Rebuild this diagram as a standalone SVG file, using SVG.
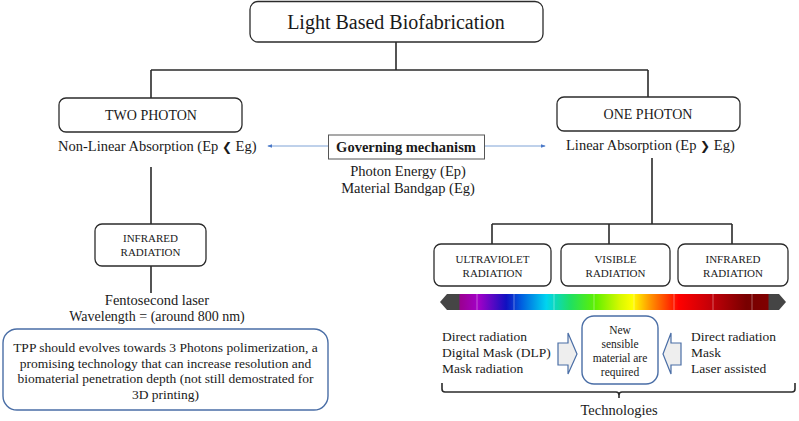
<svg xmlns="http://www.w3.org/2000/svg" width="799" height="421" viewBox="0 0 799 421">
<defs>
<style>
text{font-family:"Liberation Serif","Times New Roman",serif;fill:#1a1a1a}
.box{fill:#fff;stroke:#2b2b2b;stroke-width:1.3}
.bbox{fill:#fff;stroke:#4a6ea6;stroke-width:1.4}
.ln{fill:none;stroke:#2b2b2b;stroke-width:1.6}
.ar{fill:none;stroke:#7fa3d6;stroke-width:1}
.barrow{fill:#eeeeee;stroke:#4a6ea6;stroke-width:1.2}
.c{text-anchor:middle}
.sym{font-family:"DejaVu Sans",sans-serif}
</style>
<marker id="ah" viewBox="0 0 6 6" refX="5" refY="3" markerWidth="5" markerHeight="5" orient="auto-start-reverse">
<path d="M0,0.8 L6,3 L0,5.2 Z" fill="#4a78c8"/>
</marker>
<linearGradient id="spec" gradientUnits="userSpaceOnUse" x1="460" y1="0" x2="768" y2="0">
<stop offset="0" stop-color="#9a0090"/>
<stop offset="0.06" stop-color="#a300c8"/>
<stop offset="0.15" stop-color="#1010c0"/>
<stop offset="0.2" stop-color="#0060e0"/>
<stop offset="0.28" stop-color="#00d4f0"/>
<stop offset="0.36" stop-color="#20e060"/>
<stop offset="0.44" stop-color="#60f000"/>
<stop offset="0.52" stop-color="#d8f800"/>
<stop offset="0.56" stop-color="#ffff00"/>
<stop offset="0.62" stop-color="#ff9000"/>
<stop offset="0.71" stop-color="#ff0000"/>
<stop offset="0.82" stop-color="#c00008"/>
<stop offset="0.93" stop-color="#780000"/>
<stop offset="1" stop-color="#800000"/>
</linearGradient>
</defs>

<g id="connectors">
<path class="ln" d="M396,42 V70 M151,70 H648 M151,70 V98 M648,70 V97"/>
<path class="ln" d="M151,167 V224 M151,266 V293"/>
<path class="ln" d="M652,158 V224 M492,224 H732 M492,224 V244 M609,224 V244 M732,224 V244"/>
<line class="ar" x1="328" y1="146" x2="268" y2="146" marker-end="url(#ah)"/>
<line class="ar" x1="485" y1="146" x2="545" y2="146" marker-end="url(#ah)"/>
<path class="ln" d="M442,383 V389 Q442,392 445,392 H616 Q619,392 619,395 V398 M619,395 Q619,392 622,392 H792 Q795,392 795,389 V383" stroke-width="1.4"/>
</g>

<g id="title">
<rect class="box" x="250" y="1.5" width="293" height="40.5" rx="8"/>
<text class="c" x="396" y="29" font-size="20">Light Based Biofabrication</text>
</g>

<g id="two-photon">
<rect class="box" x="59" y="98" width="183" height="34" rx="7"/>
<text class="c" x="151" y="120" font-size="14">TWO PHOTON</text>
<text x="58" y="151" font-size="14.5">Non-Linear Absorption (Ep <tspan class="sym" font-size="12">❮</tspan> Eg)</text>
</g>

<g id="one-photon">
<rect class="box" x="557" y="97" width="183" height="34" rx="7"/>
<text class="c" x="648" y="119" font-size="14">ONE PHOTON</text>
<text x="566" y="150" font-size="14.5">Linear Absorption (Ep <tspan class="sym" font-size="12">❯</tspan> Eg)</text>
</g>

<g id="governing">
<rect x="328.5" y="135" width="156" height="24" fill="#fff" stroke="#555" stroke-width="1"/>
<text class="c" x="406" y="152" font-size="14.5" font-weight="bold">Governing mechanism</text>
<text class="c" x="408" y="176" font-size="14.5">Photon Energy (Ep)</text>
<text class="c" x="408" y="193" font-size="14.5">Material Bandgap (Eg)</text>
</g>

<g id="ir-left">
<rect class="box" x="95" y="224" width="111" height="42" rx="7"/>
<text class="c" x="150.5" y="242" font-size="11">INFRARED</text>
<text class="c" x="150.5" y="256" font-size="11">RADIATION</text>
<text class="c" x="157" y="305" font-size="14.5">Fentosecond laser</text>
<text class="c" x="157" y="321" font-size="14">Wavelength = (around 800 nm)</text>
</g>

<g id="tpp">
<rect class="bbox" x="3" y="329" width="325" height="81" rx="14"/>
<text class="c" x="165.5" y="352" font-size="13.5">TPP should evolves towards 3 Photons polimerization,  a</text>
<text class="c" x="165.5" y="367.5" font-size="13.5">promising technology that can increase resolution and</text>
<text class="c" x="165.5" y="383" font-size="13.5">biomaterial penetration depth (not still demostrated for</text>
<text class="c" x="165.5" y="398.5" font-size="13.5">3D printing)</text>
</g>

<g id="uv">
<rect class="box" x="434" y="244" width="117" height="42" rx="7"/>
<text class="c" x="492.5" y="263" font-size="11">ULTRAVIOLET</text>
<text class="c" x="492.5" y="276.5" font-size="11">RADIATION</text>
</g>

<g id="visible">
<rect class="box" x="561" y="244" width="109" height="42" rx="7"/>
<text class="c" x="615.5" y="263" font-size="11">VISIBLE</text>
<text class="c" x="615.5" y="276.5" font-size="11">RADIATION</text>
</g>

<g id="ir-right">
<rect class="box" x="678" y="244" width="110" height="42" rx="7"/>
<text class="c" x="733" y="263" font-size="11">INFRARED</text>
<text class="c" x="733" y="276.5" font-size="11">RADIATION</text>
</g>

<g id="spectrum">
<path d="M440,302 L447,294 H460 V310 H447 Z" fill="#454545"/>
<path d="M786,302 L779,294 H768 V310 H779 Z" fill="#454545"/>
<rect x="459.5" y="294" width="309" height="16" fill="url(#spec)"/>
<path d="M477,294 V310 M514,294 V310 M554,294 V310 M594,294 V310 M634,294 V310 M674,294 V310 M713,294 V310 M752,294 V310" stroke="#fff" stroke-opacity="0.45" stroke-width="0.8"/>
</g>

<g id="tech-left">
<text x="442" y="341" font-size="13.5">Direct radiation</text>
<text x="442" y="357" font-size="13.5">Digital Mask (DLP)</text>
<text x="442" y="373" font-size="13.5">Mask radiation</text>
</g>

<g id="arrow-left">
<path class="barrow" d="M558,343 H568 V333 L577,354 L568,374 V365 H558 Z"/>
</g>

<g id="new-material">
<rect class="bbox" x="582" y="316" width="76" height="68" rx="12"/>
<text class="c" x="620" y="334" font-size="11.5">New</text>
<text class="c" x="620" y="348" font-size="11.5">sensible</text>
<text class="c" x="620" y="362" font-size="11.5">material are</text>
<text class="c" x="620" y="376" font-size="11.5">required</text>
</g>

<g id="arrow-right">
<path class="barrow" d="M681,343 H671 V333 L663,354 L671,374 V365 H681 Z"/>
</g>

<g id="tech-right">
<text x="691" y="341" font-size="13.5">Direct radiation</text>
<text x="691" y="357" font-size="13.5">Mask</text>
<text x="691" y="373" font-size="13.5">Laser assisted</text>
</g>

<g id="technologies">
<text class="c" x="619" y="415" font-size="14.5">Technologies</text>
</g>
</svg>
